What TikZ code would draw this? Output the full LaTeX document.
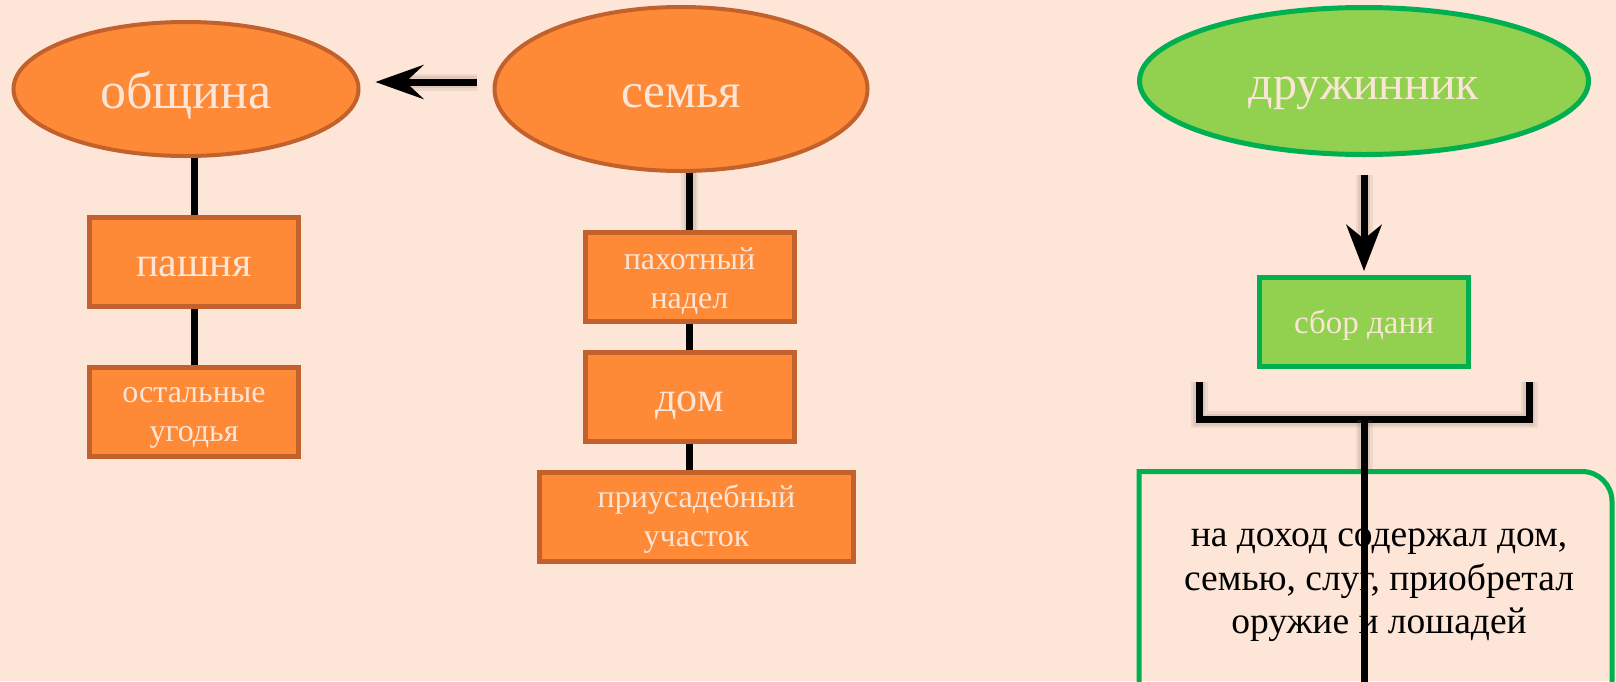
\documentclass[tikz,border=0pt]{standalone}
\usepackage{fontspec}
\setmainfont{Liberation Serif}
\usetikzlibrary{arrows.meta,shapes.geometric}
\definecolor{bg}{HTML}{FDE5D7}
\definecolor{ofill}{HTML}{FE8A38}
\definecolor{oline}{HTML}{C2612B}
\definecolor{gfill}{HTML}{92D050}
\definecolor{gline}{HTML}{00B050}
\definecolor{cream}{HTML}{FBE5D6}
\definecolor{shade}{HTML}{7A6A60}
\begin{document}
\begin{tikzpicture}[x=1pt,y=-1pt,
  smallf/.style={font=\fontsize{32}{39}\selectfont},
  lbl/.style={anchor=base, inner sep=0pt, text=cream, align=center},
  oell/.style={ellipse, draw=oline, fill=ofill, line width=4pt, inner sep=0pt},
  gell/.style={ellipse, draw=gline, fill=gfill, line width=5pt, inner sep=0pt},
  obox/.style={rectangle, draw=oline, fill=ofill, line width=5pt, inner sep=0pt, minimum width=209pt, minimum height=89pt},
  gbox/.style={rectangle, draw=gline, fill=gfill, line width=5pt, inner sep=0pt, minimum width=209pt, minimum height=89pt},
  conn/.style={line width=7pt, draw=black},
  soft/.style={preaction={draw=shade, draw opacity=0.10, line width=17pt},
               preaction={draw=shade, draw opacity=0.14, line width=12pt}},
]
\fill[bg] (0,0) rectangle (1616,681);
\useasboundingbox (0,0) rectangle (1616,681);

% shapes
\node[oell, minimum width=345pt, minimum height=134pt] (ob) at (186,89) {};
\node[oell, minimum width=373pt, minimum height=164pt] (se) at (681,89) {};
\node[gell, minimum width=449pt, minimum height=147pt] (dr) at (1364,81) {};
\node[obox] (pa) at (194,261.5) {};
\node[obox] (ost) at (194,411.5) {};
\node[obox] (pax) at (689.5,277) {};
\node[obox] (dom) at (689.5,397) {};
\node[obox, minimum width=314pt] (pri) at (696.5,517) {};
\node[gbox] (sb) at (1364,322) {};

% labels (anchor base = baseline of the last line)
\node[lbl, font=\fontsize{52}{56}\selectfont] (obt) at ([yshift=-19pt]ob.center) {община};
\node[lbl, font=\fontsize{49}{53}\selectfont] (set) at ([yshift=-18pt]se.center) {семья};
\node[lbl, font=\fontsize{48}{52}\selectfont] (drt) at ([yshift=-18.3pt]dr.center) {дружинник};
\node[lbl, font=\fontsize{42}{46}\selectfont] (pat) at ([yshift=-15pt]pa.center) {пашня};
\node[lbl, font=\fontsize{42}{46}\selectfont] (domt) at ([yshift=-14pt]dom.center) {дом};
\node[lbl, smallf] (ostt) at ([yshift=-30.2pt]ost.center) {остальные\\угодья};
\node[lbl, smallf] (paxt) at ([yshift=-31pt]pax.center) {пахотный\\надел};
\node[lbl, smallf] (prit) at ([yshift=-29.7pt]pri.center) {приусадебный\\участок};
\node[lbl, font=\fontsize{33}{39}\selectfont] (sbt) at ([yshift=-11pt]sb.center) {сбор дани};

% connectors
\draw[conn] (pa.north |- ob.south) -- (pa.north);
\draw[conn] (pa.south) -- (ost.north);
\draw[conn, soft] (pax.north |- se.south) -- (pax.north);
\draw[conn] (pax.south) -- (dom.north);
\draw[conn] (dom.south) -- (dom.south |- pri.north);

\draw[conn, soft, -{Stealth[length=48pt,width=34pt,inset=18pt]}, shorten <=15.5pt, shorten >=15pt]
  ([yshift=7pt]se.west) -- ([yshift=7pt]ob.east);
\draw[conn, soft, -{Stealth[length=46pt,width=35pt,inset=14pt]}, shorten <=17.5pt, shorten >=4pt]
  (dr.south) -- (sb.north);

% frame of the text block
\draw[gline, line width=5pt] (1139,700) -- (1139,471.5) -- (1582,471.5) arc[start angle=-90, end angle=0, radius=30] -- (1612,700);
\node[anchor=base, align=center, inner sep=0pt, text=black, font=\fontsize{37.5}{43.3}\selectfont] (txt) at (1379,633.3)
  {на доход содержал дом,\\семью, слуг, приобретал\\оружие и лошадей};

% bracket under "сбор дани"
\coordinate (bl) at (1199,382);
\coordinate (br) at (1529,382);
\coordinate (bm) at (1364,419.5);
\coordinate (mid) at (1364,471.5);
\coordinate (bot) at (1364,690);
\draw[conn, soft] (bl) -- (bl |- bm) -- (br |- bm) -- (br);
\draw[conn, soft] (bm) -- (mid);
\draw[conn] (mid) -- (bot);
\end{tikzpicture}
\end{document}
